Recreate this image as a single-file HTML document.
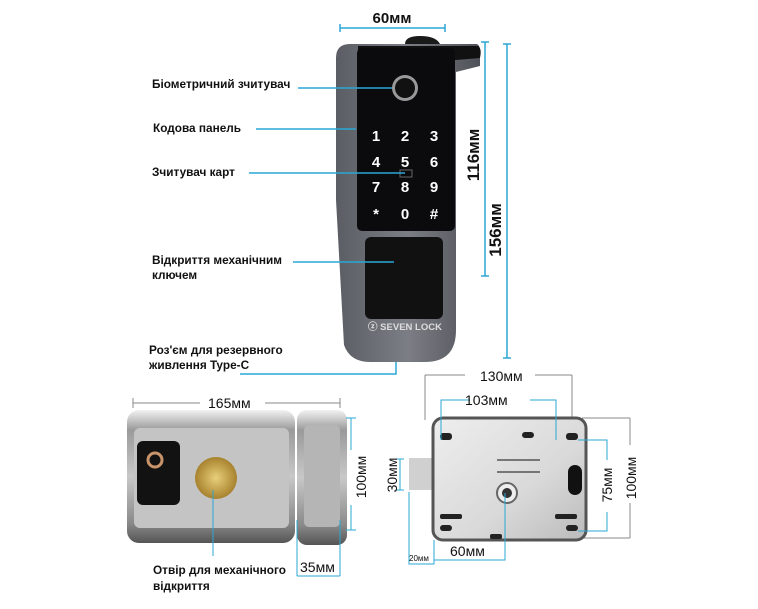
<!DOCTYPE html>
<html><head><meta charset="utf-8"><style>
body{margin:0;background:#fff;}
svg{display:block}
.l{font-family:"Liberation Sans",sans-serif;font-weight:bold;font-size:11.8px;fill:#111}
.d{font-family:"Liberation Sans",sans-serif;font-size:14px;fill:#111}
.k{font-family:"Liberation Sans",sans-serif;font-weight:bold;font-size:15px;fill:#fff}
</style></head><body>
<svg width="758" height="609" viewBox="0 0 758 609" xmlns="http://www.w3.org/2000/svg">
<defs>
<linearGradient id="g1" x1="0" x2="1"><stop offset="0" stop-color="#5a5d63"/><stop offset="0.5" stop-color="#7b7e84"/><stop offset="1" stop-color="#4e5157"/></linearGradient>
<linearGradient id="st" x1="0" y1="0" x2="0" y2="1"><stop offset="0" stop-color="#f2f2f2"/><stop offset="0.15" stop-color="#9a9a9a"/><stop offset="0.5" stop-color="#c8c8c8"/><stop offset="0.85" stop-color="#8a8a8a"/><stop offset="1" stop-color="#555"/></linearGradient>
<linearGradient id="pl" x1="0" y1="0" x2="1" y2="1"><stop offset="0" stop-color="#eee"/><stop offset="0.6" stop-color="#d9d9d9"/><stop offset="1" stop-color="#bbb"/></linearGradient>
<radialGradient id="br"><stop offset="0" stop-color="#e8cf7a"/><stop offset="1" stop-color="#a8822e"/></radialGradient>
</defs>
<!-- top device -->
<path d="M336 58 Q336 44 350 44 L476 44 Q480 44 480 52 L480 66 L456 72 L456 330 Q456 362 425 362 L370 362 Q350 362 344 345 L336 200 Z" fill="url(#g1)"/>
<path d="M405 44 Q405 36 420 36 Q436 36 440 44 Z" fill="#1a1a1a"/>
<path d="M358 46 L478 46 Q482 48 480 58 L456 60 L358 60 Z" fill="#111"/>
<rect x="357" y="48" width="98" height="183" rx="5" fill="#0b0b0e"/>
<circle cx="405" cy="88" r="13" fill="#999"/><circle cx="405" cy="88" r="10" fill="#111"/>
<g class="k" text-anchor="middle">
<text x="376" y="141">1</text><text x="405" y="141">2</text><text x="434" y="141">3</text>
<text x="376" y="167">4</text><text x="405" y="167">5</text><text x="434" y="167">6</text>
<text x="376" y="192">7</text><text x="405" y="192">8</text><text x="434" y="192">9</text>
<text x="376" y="219">*</text><text x="405" y="219">0</text><text x="434" y="219">#</text>
</g>
<rect x="400" y="170" width="12" height="7" fill="none" stroke="#666" stroke-width="1"/>
<rect x="365" y="237" width="78" height="82" rx="6" fill="#111"/>
<text x="405" y="330" text-anchor="middle" font-family="Liberation Sans" font-weight="bold" font-size="9.5" fill="#ddd">ⓩ SEVEN LOCK</text>
<!-- labels top -->
<g stroke="#2aa7d6" stroke-width="1.5" fill="none">
<line x1="298" y1="88" x2="392" y2="88"/><line x1="256" y1="129" x2="356" y2="129"/>
<line x1="249" y1="173" x2="405" y2="173"/><line x1="293" y1="262" x2="394" y2="262"/>
<polyline points="240,374 396,374 396,362"/>
<line x1="340" y1="28" x2="445" y2="28"/><line x1="340" y1="24" x2="340" y2="32"/><line x1="445" y1="24" x2="445" y2="32"/>
<line x1="485" y1="42" x2="485" y2="276"/><line x1="481" y1="42" x2="489" y2="42"/><line x1="481" y1="276" x2="489" y2="276"/>
<line x1="507" y1="44" x2="507" y2="358"/><line x1="503" y1="44" x2="511" y2="44"/><line x1="503" y1="358" x2="511" y2="358"/>
</g>
<text class="l" x="152" y="88">Біометричний зчитувач</text>
<text class="l" x="153" y="132">Кодова панель</text>
<text class="l" x="152" y="176">Зчитувач карт</text>
<text class="l" x="152" y="264">Відкриття механічним</text>
<text class="l" x="152" y="279">ключем</text>
<text class="l" x="149" y="354">Роз'єм для резервного</text>
<text class="l" x="149" y="369">живлення Type-C</text>
<text x="392" y="23" text-anchor="middle" font-family="Liberation Sans" font-weight="bold" font-size="15" fill="#111">60мм</text>
<text transform="translate(479,155) rotate(-90)" text-anchor="middle" font-family="Liberation Sans" font-weight="bold" font-size="17" fill="#111">116мм</text>
<text transform="translate(501,230) rotate(-90)" text-anchor="middle" font-family="Liberation Sans" font-weight="bold" font-size="17" fill="#111">156мм</text>
<!-- bottom left -->
<g stroke="#888" stroke-width="1" fill="none">
<line x1="133" y1="403" x2="200" y2="403"/><line x1="265" y1="403" x2="340" y2="403"/>
<line x1="133" y1="398" x2="133" y2="408"/><line x1="340" y1="398" x2="340" y2="408"/>
</g>
<text class="d" x="208" y="408">165мм</text>
<rect x="127" y="410" width="168" height="133" rx="12" fill="url(#st)"/>
<rect x="134" y="428" width="155" height="100" rx="6" fill="#c4c4c4"/>
<rect x="297" y="410" width="50" height="135" rx="10" fill="url(#st)"/>
<rect x="304" y="425" width="36" height="102" rx="5" fill="#b5b5b5"/>
<rect x="137" y="441" width="43" height="64" rx="6" fill="#121212"/>
<circle cx="155" cy="460" r="7" fill="none" stroke="#c9946a" stroke-width="3"/>
<circle cx="216" cy="478" r="21" fill="url(#br)"/>
<g stroke="#2aa7d6" stroke-width="1" fill="none">
<line x1="213" y1="490" x2="213" y2="556"/>
<line x1="351" y1="418" x2="351" y2="450"/><line x1="351" y1="505" x2="351" y2="530"/>
<line x1="346" y1="418" x2="356" y2="418"/><line x1="346" y1="530" x2="356" y2="530"/>
<line x1="297" y1="520" x2="297" y2="576"/><line x1="340" y1="520" x2="340" y2="576"/><line x1="297" y1="576" x2="340" y2="576"/>
</g>
<text transform="translate(366,477) rotate(-90)" text-anchor="middle" class="d" font-size="17">100мм</text>
<text class="d" x="300" y="572" font-size="15">35мм</text>
<text class="l" x="153" y="574">Отвір для механічного</text>
<text class="l" x="153" y="590">відкриття</text>
<!-- bottom right -->
<g stroke="#888" stroke-width="1" fill="none">
<line x1="425" y1="375" x2="465" y2="375"/><line x1="535" y1="375" x2="572" y2="375"/>
<line x1="425" y1="375" x2="425" y2="420"/><line x1="572" y1="375" x2="572" y2="420"/>
<line x1="582" y1="418" x2="630" y2="418"/><line x1="582" y1="538" x2="630" y2="538"/>
<line x1="630" y1="418" x2="630" y2="445"/><line x1="630" y1="503" x2="630" y2="538"/>
</g>
<text class="d" x="480" y="381" font-size="15">130мм</text>
<rect x="409" y="458" width="26" height="32" fill="#d0d0d0"/>
<rect x="433" y="418" width="153" height="122" rx="10" fill="url(#pl)" stroke="#555" stroke-width="3"/>
<rect x="440" y="433" width="12" height="7" rx="3" fill="#222"/><rect x="566" y="433" width="12" height="7" rx="3" fill="#222"/>
<rect x="440" y="525" width="12" height="6" rx="3" fill="#222"/><rect x="566" y="525" width="12" height="6" rx="3" fill="#222"/>
<rect x="440" y="514" width="22" height="5" rx="2" fill="#222"/><rect x="555" y="514" width="22" height="5" rx="2" fill="#222"/>
<rect x="568" y="465" width="14" height="30" rx="7" fill="#111"/>
<circle cx="507" cy="493" r="10" fill="#eee" stroke="#666" stroke-width="2"/><circle cx="507" cy="493" r="5" fill="#333"/>
<line x1="497" y1="460" x2="540" y2="460" stroke="#555" stroke-width="1.5"/>
<line x1="497" y1="472" x2="540" y2="472" stroke="#555" stroke-width="1.5"/>
<rect x="522" y="432" width="12" height="6" rx="3" fill="#222"/><rect x="490" y="534" width="12" height="5" rx="2" fill="#222"/>
<g stroke="#2aa7d6" stroke-width="1" fill="none">
<polyline points="441,440 441,400 470,400"/><polyline points="530,400 556,400 556,440"/>
<polyline points="578,440 607,440 607,460"/><polyline points="607,512 607,531 578,531"/>
<polyline points="400,459 400,490"/><line x1="396" y1="459" x2="404" y2="459"/><line x1="396" y1="490" x2="404" y2="490"/>
<polyline points="409,492 409,564 434,564 434,540"/>
<polyline points="434,560 505,560 505,493"/>
</g>
<text class="d" x="465" y="405" font-size="14">103мм</text>
<text transform="translate(612,485) rotate(-90)" text-anchor="middle" class="d" font-size="15">75мм</text>
<text transform="translate(636,478) rotate(-90)" text-anchor="middle" class="d" font-size="15">100мм</text>
<text transform="translate(397,475) rotate(-90)" text-anchor="middle" class="d" font-size="10">30мм</text>
<text x="409" y="561" font-family="Liberation Sans" font-size="8" fill="#111">20мм</text>
<text class="d" x="450" y="556" font-size="15">60мм</text>
</svg>
</body></html>
